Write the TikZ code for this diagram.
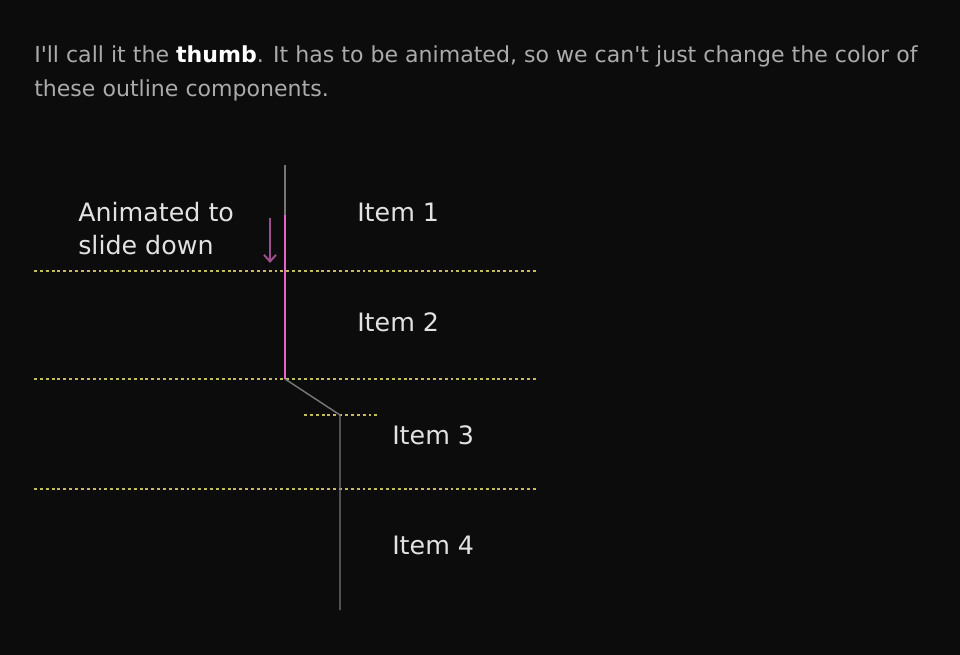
\documentclass[tikz,border=0pt]{standalone}
\usepackage{fontspec}
\setmainfont{DejaVu Sans}
\usetikzlibrary{arrows.meta}
\definecolor{bg}{HTML}{0C0C0C}
\definecolor{bodytxt}{HTML}{ABABAB}
\definecolor{lbl}{HTML}{E2E2E2}
\definecolor{railgray}{HTML}{767676}
\definecolor{thumbpink}{HTML}{E468C8}
\definecolor{arrowpink}{HTML}{9E4E8C}
\definecolor{guide}{HTML}{C4BC5C}
\tikzset{
  x=0.75pt, y=-0.75pt,
  body/.style={anchor=base west, inner sep=0pt, text=bodytxt, font=\fontsize{16.55}{20}\selectfont},
  label/.style={anchor=base west, inner sep=0pt, text=lbl, font=\fontsize{19}{23}\selectfont},
  guideline/.style={draw=guide, line width=1.1pt, dash pattern=on 2.2pt off 2.2pt},
  rail/.style={draw=railgray, line width=1.1pt},
  thumb/.style={draw=thumbpink, line width=1.5pt},
}
\begin{document}
\begin{tikzpicture}
\fill[bg] (0,0) rectangle (960,655);
\useasboundingbox (0,0) rectangle (960,655);
\node[body] (t1) at (34,63) {I\textquotesingle ll call it the \textcolor{white}{\textbf{thumb}}. It has to be animated, so we can\textquotesingle t just change the color of};
\node[body] (t2) at (34,97) {these outline components.};
% guides
\coordinate (g1a) at (34,271); \coordinate (g1b) at (537,271);
\coordinate (g2a) at (34,379); \coordinate (g2b) at (537,379);
\coordinate (g3a) at (34,489); \coordinate (g3b) at (537,489);
\coordinate (g4a) at (304,415); \coordinate (g4b) at (377,415);
\draw[guideline] (g1a) -- (g1b);
\draw[guideline] (g2a) -- (g2b);
\draw[guideline] (g3a) -- (g3b);
\draw[guideline] (g4a) -- (g4b);
% rail
\coordinate (r0) at (285,165);
\coordinate (r1) at (285,215);
\coordinate (r2) at (285,379);
\coordinate (r3) at (340,415);
\coordinate (r4) at (340,610);
\draw[rail] (r0) -- (r1);
\draw[rail] (r2) -- (r3) -- (r4);
\draw[thumb] (r1) -- (r2);
% arrow
\coordinate (a0) at (270,218);
\coordinate (a1) at (270,263);
\draw[draw=arrowpink, line width=1.5pt, -{Straight Barb[length=5pt,width=9pt]}] (a0) -- (a1);
% labels
\node[label] (anim1) at (78,222) {Animated to};
\node[label] (anim2) at (78,255) {slide down};
\node[label] (i1) at (357,222) {Item 1};
\node[label] (i2) at (357,332) {Item 2};
\node[label] (i3) at (392,445) {Item 3};
\node[label] (i4) at (392,554) {Item 4};
\end{tikzpicture}
\end{document}
